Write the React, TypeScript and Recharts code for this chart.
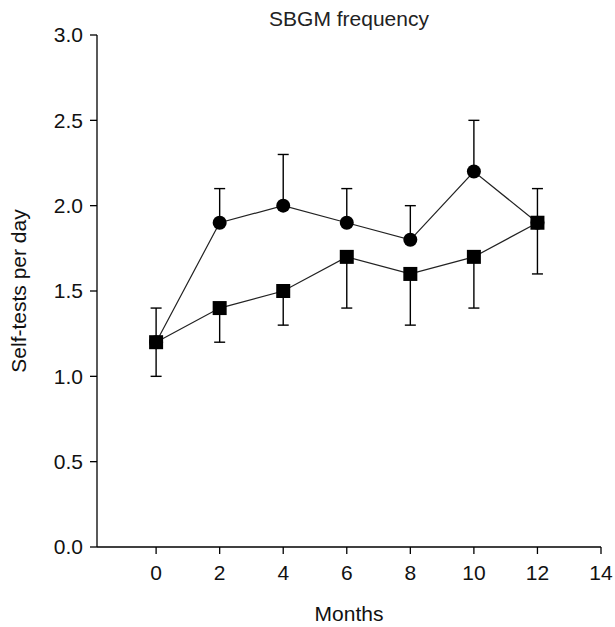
import React from 'react';
import { LineChart, Line, XAxis, YAxis, ErrorBar, Label } from 'recharts';

const months = [0, 2, 4, 6, 8, 10, 12];
const circleMean = [1.2, 1.9, 2.0, 1.9, 1.8, 2.2, 1.9];
const circleUpper = [0.2, 0.2, 0.3, 0.2, 0.2, 0.3, 0.2];
const squareMean = [1.2, 1.4, 1.5, 1.7, 1.6, 1.7, 1.9];
const squareLower = [0.2, 0.2, 0.2, 0.3, 0.3, 0.3, 0.3];
const xTicks = [0, 2, 4, 6, 8, 10, 12, 14];
const yTicks = [0, 0.5, 1.0, 1.5, 2.0, 2.5, 3.0];

const title = 'SBGM frequency';
const xLabel = 'Months';
const yLabel = 'Self-tests per day';

const data = months.map((m, i) => ({
  month: m,
  circle: circleMean[i],
  circleErr: [0, circleUpper[i]],
  square: squareMean[i],
  squareErr: [squareLower[i], 0],
}));

const FONT = '"Liberation Sans", Arial, Helvetica, sans-serif';

const SquareDot = (props: any) => {
  const { cx, cy } = props;
  if (cx == null || cy == null) return null;
  return <rect x={cx - 7} y={cy - 7} width={14} height={14} fill="#000" />;
};

const CircleDot = (props: any) => {
  const { cx, cy } = props;
  if (cx == null || cy == null) return null;
  return <circle cx={cx} cy={cy} r={7} fill="#000" />;
};

export default function App() {
  return (
    <div style={{ position: 'absolute', left: 0, top: 0, width: 615, height: 627, background: '#fff' }}>
      <LineChart
        width={615}
        height={627}
        data={data}
        margin={{ top: 35, right: 14, bottom: 0, left: 0 }}
        style={{ fontFamily: FONT }}
      >
        <XAxis
          dataKey="month"
          type="number"
          domain={[-1.86, 14]}
          ticks={xTicks}
          allowDataOverflow
          height={80}
          tickSize={7}
          tickMargin={11}
          stroke="#000"
          strokeWidth={1.3}
          tick={{ fontSize: 21, fill: '#111', fontFamily: FONT }}
        >
          <Label
            content={(p: any) => {
              const vb = p.viewBox || {};
              const cx = (vb.x ?? 97) + (vb.width ?? 504) / 2;
              return (
                <g>
                  <text x={cx} y={621} textAnchor="middle" fontSize={21} fill="#111" fontFamily={FONT}>
                    {xLabel}
                  </text>
                  <text x={cx} y={26} textAnchor="middle" fontSize={21} fill="#222" fontFamily={FONT}>
                    {title}
                  </text>
                </g>
              );
            }}
          />
        </XAxis>
        <YAxis
          type="number"
          domain={[0, 3]}
          ticks={yTicks}
          width={97}
          tickSize={7}
          tickMargin={7}
          stroke="#000"
          strokeWidth={1.3}
          tickFormatter={(v: number) => v.toFixed(1)}
          tick={{ fontSize: 21, fill: '#111', fontFamily: FONT }}
        >
          <Label
            content={(p: any) => {
              const vb = p.viewBox || {};
              const cy = (vb.y ?? 35) + (vb.height ?? 512) / 2;
              return (
                <text
                  x={26}
                  y={cy}
                  transform={`rotate(-90 26 ${cy})`}
                  textAnchor="middle"
                  fontSize={21}
                  fill="#111"
                  fontFamily={FONT}
                >
                  {yLabel}
                </text>
              );
            }}
          />
        </YAxis>
        <Line
          dataKey="circle"
          stroke="#222"
          strokeWidth={1.2}
          dot={CircleDot}
          activeDot={false}
          isAnimationActive={false}
        >
          <ErrorBar dataKey="circleErr" direction="y" width={5.5} stroke="#000" strokeWidth={1.4} />
        </Line>
        <Line
          dataKey="square"
          stroke="#222"
          strokeWidth={1.2}
          dot={SquareDot}
          activeDot={false}
          isAnimationActive={false}
        >
          <ErrorBar dataKey="squareErr" direction="y" width={5.5} stroke="#000" strokeWidth={1.4} />
        </Line>
      </LineChart>
    </div>
  );
}
